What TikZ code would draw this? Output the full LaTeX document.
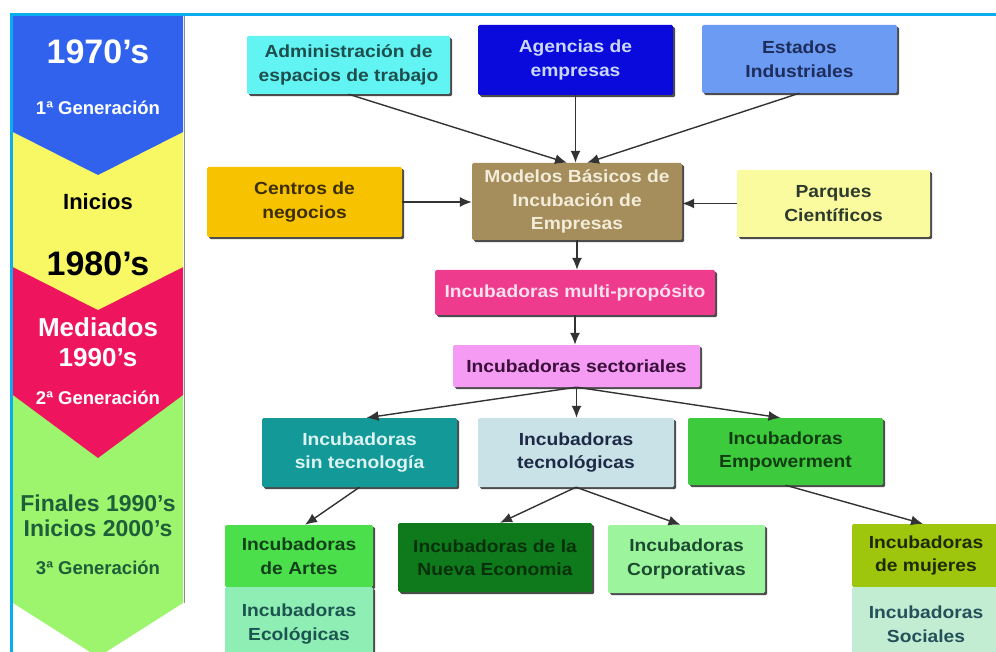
\documentclass[tikz,border=0pt]{standalone}
\usepackage{fontspec}
\setmainfont{Liberation Sans}
\newfontfamily\boxfont{Liberation Sans}[FakeStretch=1.1]
\usetikzlibrary{arrows.meta,shadows,calc}

% frame and time line
\definecolor{frameblue}{HTML}{0AAEEF}
\definecolor{eraA}{HTML}{3062EE}
\definecolor{eraB}{HTML}{F8F865}
\definecolor{eraC}{HTML}{EE155E}
\definecolor{eraD}{HTML}{9CF56C}
\definecolor{eraDtext}{HTML}{1E5E3A}
% box fills
\definecolor{cAdmin}{HTML}{62F3F3}
\definecolor{cAgen}{HTML}{0A0ADC}
\definecolor{cEst}{HTML}{6B9BF2}
\definecolor{cCen}{HTML}{F7C200}
\definecolor{cMod}{HTML}{A58E5C}
\definecolor{cPar}{HTML}{FAFA9E}
\definecolor{cMul}{HTML}{EE3B8E}
\definecolor{cSec}{HTML}{F59BF3}
\definecolor{cSin}{HTML}{139A98}
\definecolor{cTec}{HTML}{C8E2E8}
\definecolor{cEmp}{HTML}{3DCB3D}
\definecolor{cArt}{HTML}{4CDF4C}
\definecolor{cEco}{HTML}{8FEEB4}
\definecolor{cNue}{HTML}{0E7A1C}
\definecolor{cCor}{HTML}{9CF59C}
\definecolor{cMuj}{HTML}{9DC60C}
\definecolor{cSoc}{HTML}{C2EDD2}
% box texts
\definecolor{tAdmin}{HTML}{1F4E4E}
\definecolor{tAgen}{HTML}{C9D6FF}
\definecolor{tEst}{HTML}{1F2D5C}
\definecolor{tCen}{HTML}{3D2E05}
\definecolor{tMod}{HTML}{F2ECD9}
\definecolor{tPar}{HTML}{2D3B2D}
\definecolor{tMul}{HTML}{FBE0EE}
\definecolor{tSec}{HTML}{3B0F3B}
\definecolor{tSin}{HTML}{DDF3F2}
\definecolor{tTec}{HTML}{1E2A45}
\definecolor{tEmp}{HTML}{123D12}
\definecolor{tArt}{HTML}{12401A}
\definecolor{tEco}{HTML}{1C5550}
\definecolor{tNue}{HTML}{08300B}
\definecolor{tCor}{HTML}{1C4A30}
\definecolor{tMuj}{HTML}{1E2A02}
\definecolor{tSoc}{HTML}{24505A}

\tikzset{
  card/.style={rectangle, rounded corners=1.5pt, inner sep=0pt, align=center,
    font=\boxfont\bfseries\fontsize{17.5}{23.5}\selectfont,
    general shadow={fill=black!70, shadow xshift=2.2pt, shadow yshift=-2.2pt}},
  link/.style={draw=black!80, line width=1.4pt, -{Latex[length=12pt,width=10pt]}},
  era/.style={align=center, inner sep=0pt},
  big/.style={font=\bfseries\fontsize{34}{36}\selectfont},
  gen/.style={font=\bfseries\fontsize{18.5}{20}\selectfont},
  mid/.style={font=\bfseries\fontsize{26}{30}\selectfont},
  late/.style={font=\bfseries\fontsize{23}{25}\selectfont},
}

\begin{document}
\begin{tikzpicture}[x=1pt,y=-1pt]
\useasboundingbox (0,0) rectangle (996,652);
\clip (0,0) rectangle (996,652);
\fill[white] (0,0) rectangle (996,652);

% time line chevrons, bottom piece first
\fill[eraD] (13,395) -- (183,395) -- (183,603) -- (98,657) -- (13,603) -- cycle;
\fill[eraC] (13,267) -- (183,267) -- (183,395) -- (98,458) -- (13,395) -- cycle;
\fill[eraB] (13,132) -- (183,132) -- (183,267) -- (98,310) -- (13,267) -- cycle;
\fill[eraA] (13,15) -- (183,15) -- (183,132) -- (98,175) -- (13,132) -- cycle;
\draw[black!45, line width=1.2pt] (184.2,16) -- (184.2,603);

\node[era, big, text=white] (t70) at (98,52) {1970’s};
\node[era, gen, text=white] (g1) at (98,108) {1ª Generación};
\node[era, font=\bfseries\fontsize{22}{24}\selectfont, text=black] (ini) at (98,202) {Inicios};
\node[era, big, text=black] (t80) at (98,264) {1980’s};
\node[era, mid, text=white] (med) at (98,342) {Mediados\\1990’s};
\node[era, gen, text=white] (g2) at (98,398) {2ª Generación};
\node[era, late, text=eraDtext] (fin) at (98,516) {Finales 1990’s\\Inicios 2000’s};
\node[era, gen, text=eraDtext] (g3) at (98,568) {3ª Generación};

% frame
\draw[frameblue, line width=3pt] (11.5,652) -- (11.5,14.5) -- (996,14.5);

% boxes
\node[card, fill=cAdmin, text=tAdmin, minimum width=203pt, minimum height=58pt] (admin) at (348.5,65) {Administración de\\espacios de trabajo};
\node[card, fill=cAgen, text=tAgen, minimum width=195pt, minimum height=70pt] (agen) at (575.5,60) {Agencias de\\empresas};
\node[card, fill=cEst, text=tEst, minimum width=195pt, minimum height=68pt] (est) at (799.5,59) {Estados\\Industriales};
\node[card, fill=cCen, text=tCen, minimum width=195pt, minimum height=70pt] (cen) at (304.5,202) {Centros de\\negocios};
\node[card, fill=cMod, text=tMod, minimum width=210pt, minimum height=77pt] (mod) at (577,201.5) {Modelos Básicos de\\Incubación de\\Empresas};
\node[card, fill=cPar, text=tPar, minimum width=193pt, minimum height=67pt] (par) at (833.5,203.5) {Parques\\Científicos};
\node[card, fill=cMul, text=tMul, minimum width=280pt, minimum height=45pt] (mul) at (575,292.5) {Incubadoras multi-propósito};
\node[card, fill=cSec, text=tSec, minimum width=247pt, minimum height=42pt] (sec) at (576.5,366) {Incubadoras sectoriales};
\node[card, fill=cSin, text=tSin, minimum width=195pt, minimum height=69pt] (sin) at (359.5,452.5) {Incubadoras\\sin tecnología};
\node[card, fill=cTec, text=tTec, minimum width=196pt, minimum height=69pt] (tec) at (576,452.5) {Incubadoras\\tecnológicas};
\node[card, fill=cEmp, text=tEmp, minimum width=195pt, minimum height=67pt] (emp) at (785.5,451.5) {Incubadoras\\Empowerment};
\node[card, fill=cArt, text=tArt, minimum width=148pt, minimum height=62pt] (art) at (299,556) {Incubadoras\\de Artes};
\node[card, fill=cEco, text=tEco, minimum width=148pt, minimum height=74pt] (eco) at (299,624) {Incubadoras\\Ecológicas};
\node[card, fill=cNue, text=tNue, minimum width=194pt, minimum height=69pt] (nue) at (495,557.5) {Incubadoras de la\\Nueva Economia};
\node[card, fill=cCor, text=tCor, minimum width=157pt, minimum height=68pt] (cor) at (686.5,559) {Incubadoras\\Corporativas};
\node[card, fill=cMuj, text=tMuj, minimum width=148pt, minimum height=63pt] (muj) at (926,555.5) {Incubadoras\\de mujeres};
\node[card, fill=cSoc, text=tSoc, minimum width=148pt, minimum height=74pt] (soc) at (926,624) {Incubadoras\\Sociales};

% connectors
\draw[link] (admin.south) -- ($(mod.north)+(-10,0)$);
\draw[link] (agen.south) -- (agen.south |- mod.north);
\draw[link] (est.south) -- ($(mod.north)+(10,0)$);
\draw[link] (cen.east) -- (cen.east -| mod.west);
\draw[link] (par.west) -- (par.west -| mod.east);
\draw[link] (mod.south) -- (mod.south |- mul.north);
\draw[link] (mul.south) -- (mul.south |- sec.north);
\draw[link] (sec.south) -- ($(sin.north)+(7,0)$);
\draw[link] (sec.south) -- (sec.south |- tec.north);
\draw[link] (sec.south) -- ($(emp.north)+(-5,0)$);
\draw[link] (sin.south) -- ($(art.north)+(6,0)$);
\draw[link] (tec.south) -- ($(nue.north)+(5,0)$);
\draw[link] (tec.south) -- ($(cor.north)+(-6,0)$);
\draw[link] (emp.south) -- ($(muj.north)+(-3,0)$);
\end{tikzpicture}
\end{document}
